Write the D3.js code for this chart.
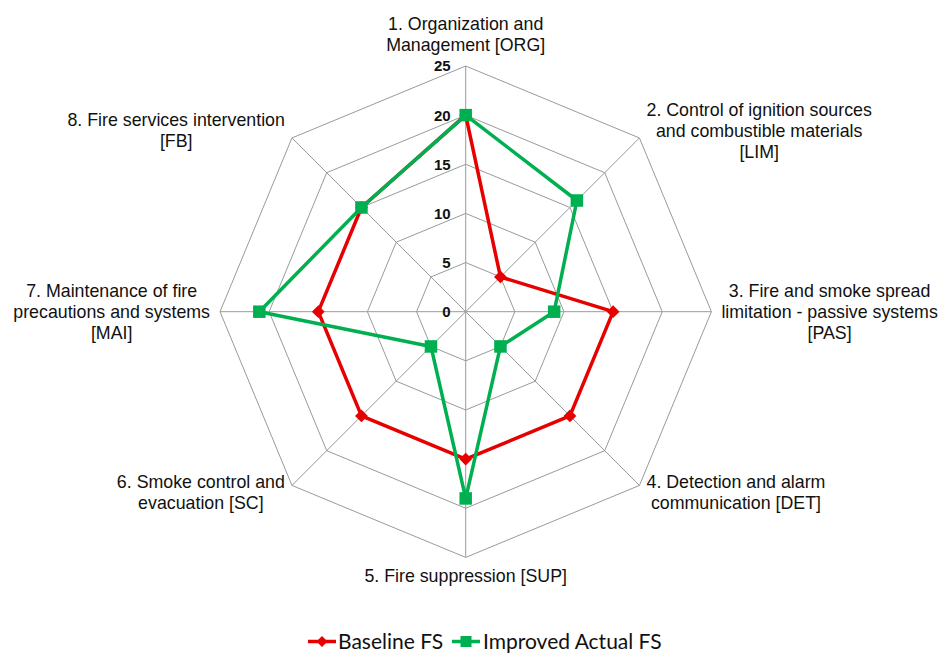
<!DOCTYPE html>
<html>
<head>
<meta charset="utf-8">
<script src="https://cdn.jsdelivr.net/npm/d3@7"></script>
<style>
  html, body { margin: 0; padding: 0; background: #fff; }
  svg { display: block; }
</style>
</head>
<body>
<svg id="chart" width="939" height="653"></svg>
<script>
// ---- data ----
const categories = [
  ["1. Organization and", "Management [ORG]"],
  ["2. Control of ignition sources", "and combustible materials", "[LIM]"],
  ["3. Fire and smoke spread", "limitation - passive systems", "[PAS]"],
  ["4. Detection and alarm", "communication [DET]"],
  ["5. Fire suppression [SUP]"],
  ["6. Smoke control and", "evacuation [SC]"],
  ["7. Maintenance of fire", "precautions and systems", "[MAI]"],
  ["8. Fire services intervention", "[FB]"]
];
const baselineFS = [20, 5, 15, 15, 15, 15, 15, 15];
const improvedFS = [20, 16, 9, 5, 19, 5, 21, 15];
const tickValues = [0, 5, 10, 15, 20, 25];
const seriesNames = ["Baseline FS", "Improved Actual FS"];

// ---- layout ----
const svg = d3.select("#chart");
const cx = 465.7, cy = 311.7, R = 245.7;
const n = categories.length;
const r = d3.scaleLinear().domain([0, 25]).range([0, R]);
const ang = d3.scaleLinear().domain([0, n]).range([0, 2 * Math.PI]);
const pt = (i, v) => [cx + r(v) * Math.sin(ang(i)), cy - r(v) * Math.cos(ang(i))];

const grid = svg.append("g");
tickValues.filter(t => t > 0).forEach(t => {
  const pts = d3.range(n).map(i => pt(i, t));
  grid.append("path")
    .attr("d", d3.line()(pts) + "Z")
    .attr("fill", "none").attr("stroke", "#9a9a9a").attr("stroke-width", 1);
});
d3.range(n).forEach(i => {
  const p = pt(i, 25);
  grid.append("line").attr("x1", cx).attr("y1", cy).attr("x2", p[0]).attr("y2", p[1])
    .attr("stroke", "#9a9a9a").attr("stroke-width", 1);
});

// tick labels
svg.append("g").selectAll("text").data(tickValues).join("text")
  .attr("x", cx - 15).attr("y", d => cy - r(d))
  .attr("dy", "0.36em")
  .attr("text-anchor", "end")
  .attr("font-family", "Liberation Sans, Arial, sans-serif")
  .attr("font-weight", "bold").attr("font-size", 15)
  .attr("fill", "#111")
  .text(d => d);

// category labels
const lblFont = 17.8, lh = 21, pad = 10;
const lg = svg.append("g")
  .attr("font-family", "Liberation Sans, Arial, sans-serif")
  .attr("font-size", lblFont).attr("fill", "#111");
categories.forEach((lines, i) => {
  const a = ang(i), s = Math.sin(a), c = Math.cos(a);
  const ax = cx + (R + pad) * s, ay = cy - (R + pad) * c;
  const t = lg.append("text").attr("text-anchor", "middle");
  const spans = lines.map(l => t.append("tspan").text(l));
  const w = d3.max(spans, sp => sp.node().getComputedTextLength());
  let mx = ax;
  if (s > 0.1) mx = ax + w / 2;
  else if (s < -0.1) mx = ax - w / 2;
  const m = lines.length;
  let firstBase;
  if (c > 0.9) firstBase = ay - 5 - (m - 1) * lh;
  else if (c < -0.9) firstBase = ay + 15;
  else firstBase = ay - (m - 1) / 2 * lh + 6;
  spans.forEach((sp, k) => sp.attr("x", mx).attr("y", firstBase + k * lh));
});

// series
const colors = ["#E60000", "#00B050"];
const series = [baselineFS, improvedFS];
series.forEach((vals, si) => {
  const pts = vals.map((v, i) => pt(i, v));
  svg.append("path")
    .attr("d", d3.line()(pts) + "Z")
    .attr("fill", "none").attr("stroke", colors[si]).attr("stroke-width", 3.5)
    .attr("stroke-linejoin", "round");
});
series.forEach((vals, si) => {
  const g = svg.append("g");
  vals.forEach((v, i) => {
    const p = pt(i, v);
    if (si === 0) {
      g.append("path")
        .attr("d", d3.symbol().type(d3.symbolSquare).size(82)())
        .attr("transform", `translate(${p[0]},${p[1]}) rotate(45)`)
        .attr("fill", colors[si]);
    } else {
      g.append("rect").attr("x", p[0] - 6.25).attr("y", p[1] - 6.25)
        .attr("width", 12.5).attr("height", 12.5).attr("fill", colors[si]);
    }
  });
});

// legend
const legY = 641.5;
const leg = svg.append("g").attr("font-family", "Lato, 'Open Sans', sans-serif")
  .attr("font-size", 21).attr("fill", "#111");
const legItems = [
  { x0: 308, x1: 336, tx: 338 },
  { x0: 452, x1: 480, tx: 483 }
];
seriesNames.forEach((name, si) => {
  const it = legItems[si];
  leg.append("line").attr("x1", it.x0).attr("x2", it.x1).attr("y1", legY).attr("y2", legY)
    .attr("stroke", colors[si]).attr("stroke-width", 3.5);
  const mxp = (it.x0 + it.x1) / 2;
  if (si === 0) {
    leg.append("path").attr("d", d3.symbol().type(d3.symbolSquare).size(60)())
      .attr("transform", `translate(${mxp},${legY}) rotate(45)`).attr("fill", colors[si]);
  } else {
    leg.append("rect").attr("x", mxp - 5.5).attr("y", legY - 5.5).attr("width", 11).attr("height", 11)
      .attr("fill", colors[si]);
  }
  leg.append("text").attr("x", it.tx).attr("y", legY + 7.5).text(name);
});
</script>
</body>
</html>
